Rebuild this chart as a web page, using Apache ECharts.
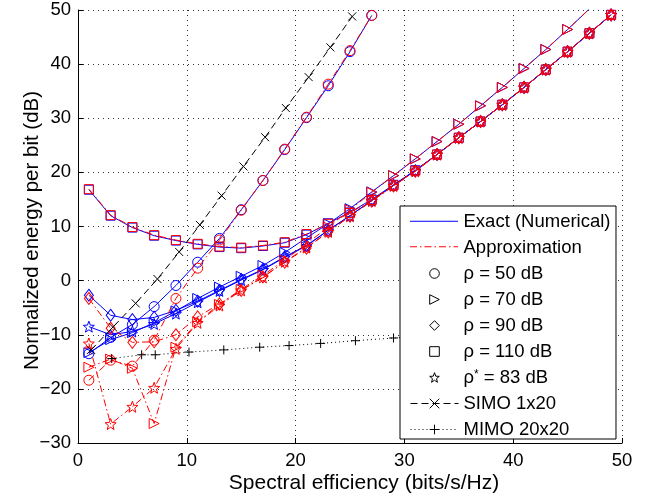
<!DOCTYPE html>
<html>
<head>
<meta charset="utf-8">
<script src="https://cdn.jsdelivr.net/npm/echarts@6/dist/echarts.min.js"></script>
<style>
  html, body { margin: 0; padding: 0; background: #fff; }
  #chart { width: 653px; height: 499px; }
</style>
</head>
<body>
<div id="chart"></div>
<script>
// Spectral efficiency grid (bits/s/Hz) where the curves are marked
const se = [1, 3, 5, 7, 9, 11, 13, 15, 17, 19, 21, 23, 25, 27, 29, 31, 33, 35, 37, 39, 41, 43, 45, 47, 49];

// Exact (numerical) normalized energy per bit (dB)
const exact50  = [-13.5, -10.5, -8.1, -4.8, -0.9, 3.4, 7.8, 13.1, 18.5, 24.2, 30.1, 36.0, 42.3, 49.0];
const exact70  = [-13.3, -10.9, -9.6, -7.8, -5.6, -3.3, -1.2, 0.8, 2.8, 5.2, 7.9, 10.5, 13.3, 16.4, 19.4, 22.5, 25.7, 28.9, 32.3, 35.7, 39.2, 42.7, 46.4, 50.2];
const exact90  = [-2.7, -6.4, -7.2, -6.8, -5.5, -3.8, -1.8, 0.2, 2.1, 4.4, 6.5, 9.3, 12.0, 14.8, 17.6, 20.3, 23.3, 26.4, 29.4, 32.5, 35.7, 39.0, 42.3, 45.7, 49.1];
const exact110 = [16.8, 12.0, 9.8, 8.3, 7.4, 6.7, 6.2, 6.0, 6.4, 7.0, 8.5, 10.6, 12.6, 15.0, 17.7, 20.4, 23.3, 26.4, 29.4, 32.5, 35.7, 39.0, 42.3, 45.7, 49.1];
const exact83  = [-8.5, -10.0, -9.4, -8.0, -6.1, -4.0, -1.9, 0.1, 2.0, 4.3, 6.4, 9.3, 12.0, 14.8, 17.6, 20.3, 23.3, 26.4, 29.4, 32.5, 35.7, 39.0, 42.3, 45.7, 49.1];

// Closed-form approximation (dB)
const approx50  = [-18.4, -14.7, -15.8, -11.0, -3.3, 2.3, 7.5, 13.0, 18.5, 24.3, 30.2, 36.3, 42.5, 49.0];
const approx70  = [-16.0, -14.5, -16.2, -26.4, -12.3, -7.6, -4.4, -1.6, 1.0, 3.8, 6.8, 9.9, 13.1, 16.3, 19.4, 22.5, 25.7, 28.9, 32.3, 35.7, 39.2, 42.7, 46.4, 50.2];
const approx90  = [-3.3, -8.8, -11.4, -11.3, -10.0, -6.7, -4.3, -1.8, 0.7, 3.4, 6.0, 9.0, 11.9, 14.7, 17.5, 20.2, 23.3, 26.4, 29.4, 32.5, 35.7, 39.0, 42.3, 45.7, 49.1];
const approx110 = [16.9, 12.1, 9.9, 8.4, 7.5, 6.8, 6.3, 6.1, 6.5, 7.1, 8.6, 10.5, 12.5, 14.9, 17.6, 20.3, 23.3, 26.4, 29.4, 32.5, 35.7, 39.0, 42.3, 45.7, 49.1];
const approx83  = [-11.6, -26.5, -23.3, -19.8, -12.6, -7.8, -4.6, -1.8, 0.6, 3.5, 6.1, 9.0, 11.9, 14.7, 17.5, 20.2, 23.3, 26.4, 29.4, 32.5, 35.7, 39.0, 42.3, 45.7, 49.1];

// Reference systems
const simoX = [1.2, 3.2, 5.3, 7.3, 9.3, 11.2, 13.2, 15.2, 17.2, 19.1, 21.2, 23.2, 25.2];
const simoY = [-12.8, -8.6, -4.2, 0.3, 5.3, 10.3, 15.7, 21.1, 26.5, 31.9, 37.6, 43.1, 48.8];
const mimoX = [3.1, 5.85, 7.1, 10.2, 13.4, 16.7, 19.4, 22.3, 25.5, 29.0, 32.8, 37.0, 41.6, 46.5];
const mimoY = [-14.4, -13.7, -13.7, -13.2, -12.8, -12.3, -12.0, -11.6, -11.1, -10.6, -10.1, -9.6, -9.0, -8.4];

// Axis ticks
const xTicks = { min: 0, max: 50, step: 10 };
const yTicks = { min: -30, max: 50, step: 10 };

// Legend labels
const labels = {
  exact: 'Exact (Numerical)',
  approx: 'Approximation',
  r50: 'ρ = 50 dB',
  r70: 'ρ = 70 dB',
  r90: 'ρ = 90 dB',
  r110: 'ρ = 110 dB',
  r83: 'ρ* = 83 dB',
  simo: 'SIMO 1x20',
  mimo: 'MIMO 20x20'
};

// ---------- marker shapes ----------
function starPath() {
  let d = '';
  for (let i = 0; i < 10; i++) {
    const r = i % 2 ? 0.42 : 1;
    const a = -Math.PI / 2 + i * Math.PI / 5;
    d += (i ? 'L' : 'M') + (r * Math.cos(a)).toFixed(3) + ',' + (r * Math.sin(a)).toFixed(3);
  }
  return 'path://' + d + 'Z';
}
const MARK = {
  circle:   { symbol: 'circle', size: 10, rotate: 0 },
  triangle: { symbol: 'triangle', size: 10, rotate: -90 },
  diamond:  { symbol: 'diamond', size: [9, 12], rotate: 0 },
  square:   { symbol: 'rect', size: 9, rotate: 0 },
  star:     { symbol: starPath(), size: 11, rotate: 0 },
  cross:    { symbol: 'path://M0,0L10,10M10,0L0,10', size: 8, rotate: 0 },
  plus:     { symbol: 'path://M5,0L5,10M0,5L10,5', size: 9, rotate: 0 }
};

const BLUE = '#0000ff';
const RED = '#ff0000';
const DASHDOT = [7, 3, 1.5, 3];

function curve(name, xs, ys, color, mark, dash, z) {
  return {
    name: name,
    type: 'line',
    data: ys.map((y, i) => [xs[i], y]),
    symbol: mark.symbol,
    symbolSize: mark.size,
    symbolRotate: mark.rotate,
    showAllSymbol: true,
    clip: true,
    silent: true,
    animation: false,
    z: z,
    lineStyle: { color: color, width: 1, type: dash },
    itemStyle: { color: 'rgba(0,0,0,0)', borderColor: color, borderWidth: 1 }
  };
}

const series = [
  curve('e50', se, exact50, BLUE, MARK.circle, 'solid', 2),
  curve('e70', se, exact70, BLUE, MARK.triangle, 'solid', 2),
  curve('e90', se, exact90, BLUE, MARK.diamond, 'solid', 2),
  curve('e110', se, exact110, BLUE, MARK.square, 'solid', 2),
  curve('e83', se, exact83, BLUE, MARK.star, 'solid', 2),
  curve('a50', se, approx50, RED, MARK.circle, DASHDOT, 3),
  curve('a70', se, approx70, RED, MARK.triangle, DASHDOT, 3),
  curve('a90', se, approx90, RED, MARK.diamond, DASHDOT, 3),
  curve('a110', se, approx110, RED, MARK.square, DASHDOT, 3),
  curve('a83', se, approx83, RED, MARK.star, DASHDOT, 3),
  curve('simo', simoX, simoY, '#000', MARK.cross, [7, 4], 4),
  curve('mimo', mimoX, mimoY, '#000', MARK.plus, [1, 3], 4)
];

// Legend-only entries (no data)
function key(name, lineType, mark, showLine) {
  series.push({
    name: name, type: 'line', data: [],
    symbol: mark ? mark.symbol : 'none',
    symbolRotate: mark ? mark.rotate : 0,
    lineStyle: { color: '#000', width: 1, type: lineType },
    itemStyle: { color: 'rgba(0,0,0,0)', borderColor: '#000', borderWidth: 1 }
  });
  return {
    name: name,
    lineStyle: { color: '#000', width: 1, type: lineType, opacity: showLine ? 1 : 0 },
    itemStyle: { color: 'rgba(0,0,0,0)', borderColor: '#000', borderWidth: 1, opacity: mark ? 1 : 0 }
  };
}
const legendData = [
  key(labels.exact, 'solid', null, false),
  key(labels.approx, DASHDOT, null, false),
  key(labels.r50, 'solid', MARK.circle, false),
  key(labels.r70, 'solid', MARK.triangle, false),
  key(labels.r90, 'solid', MARK.diamond, false),
  key(labels.r110, 'solid', MARK.square, false),
  key(labels.r83, 'solid', MARK.star, false),
  key(labels.simo, [7, 4], MARK.cross, true),
  key(labels.mimo, [1, 3], MARK.plus, true)
];

// Legend box geometry (shared by the legend and its coloured key lines)
const LEG = { left: 400, top: 206, padTop: 6, padLeft: 10, keyW: 48, rowH: 18.5, gap: 7 };
const rowCenter = i => LEG.top + LEG.padTop + LEG.rowH / 2 + i * (LEG.rowH + LEG.gap);

const FONT = '"Liberation Sans", Arial, Helvetica, sans-serif';
const dotted = { show: true, lineStyle: { color: '#333', width: 1, type: [1, 4] } };
const minus = v => String(v).replace('-', '\u2212');

const chart = echarts.init(document.getElementById('chart'), null, { renderer: 'canvas' });
chart.setOption({
  backgroundColor: '#fff',
  animation: false,
  grid: { left: 78, right: 31, top: 10, bottom: 53, containLabel: false },
  xAxis: {
    type: 'value', min: xTicks.min, max: xTicks.max, interval: xTicks.step,
    name: 'Spectral efficiency (bits/s/Hz)', nameLocation: 'middle', nameGap: 30,
    nameMoveOverlap: false,
    nameTextStyle: { color: '#000', fontSize: 21, fontFamily: FONT, padding: [0, 0, 0, 28] },
    axisLine: { show: true, onZero: false, lineStyle: { color: '#000', width: 1 } },
    axisTick: { show: true, inside: true, length: 5, lineStyle: { color: '#000' } },
    axisLabel: { color: '#000', fontSize: 18.5, fontFamily: FONT, margin: 8, formatter: minus },
    splitLine: dotted
  },
  yAxis: {
    type: 'value', min: yTicks.min, max: yTicks.max, interval: yTicks.step,
    name: 'Normalized energy per bit (dB)', nameLocation: 'middle', nameGap: 35,
    nameMoveOverlap: false,
    nameTextStyle: { color: '#000', fontSize: 20.5, fontFamily: FONT, padding: [0, 8, 0, 0] },
    axisLine: { show: true, onZero: false, lineStyle: { color: '#000', width: 1 } },
    axisTick: { show: true, inside: true, length: 5, lineStyle: { color: '#000' } },
    axisLabel: { color: '#000', fontSize: 18.5, fontFamily: FONT, margin: 7, formatter: minus },
    splitLine: dotted
  },
  legend: {
    orient: 'vertical', left: LEG.left, top: LEG.top, z: 20,
    padding: [LEG.padTop, 5.5, 0, LEG.padLeft],
    itemWidth: LEG.keyW, itemHeight: 12, itemGap: LEG.gap,
    backgroundColor: '#fff', borderColor: '#000', borderWidth: 1, borderRadius: 0,
    selectedMode: false,
    data: legendData,
    textStyle: {
      color: '#000', fontSize: LEG.rowH, fontFamily: FONT, lineHeight: LEG.rowH,
      rich: {
        t: { color: '#000', fontSize: LEG.rowH, fontFamily: FONT, lineHeight: LEG.rowH },
        s: { color: '#000', fontSize: 12, fontFamily: FONT, lineHeight: 2, verticalAlign: 'top' }
      }
    },
    formatter: function (name) {
      if (name === labels.r83) return '{t|ρ}{s|*}{t| = 83 dB}';
      return name;
    }
  },
  // coloured key lines for the exact / approximation rows of the legend
  graphic: [
    {
      type: 'line', z: 30, silent: true,
      shape: { x1: LEG.left + LEG.padLeft, y1: rowCenter(0), x2: LEG.left + LEG.padLeft + LEG.keyW, y2: rowCenter(0) },
      style: { stroke: BLUE, lineWidth: 1 }
    },
    {
      type: 'line', z: 30, silent: true,
      shape: { x1: LEG.left + LEG.padLeft, y1: rowCenter(1), x2: LEG.left + LEG.padLeft + LEG.keyW, y2: rowCenter(1) },
      style: { stroke: RED, lineWidth: 1, lineDash: DASHDOT }
    }
  ],
  series: series
});
</script>
</body>
</html>
